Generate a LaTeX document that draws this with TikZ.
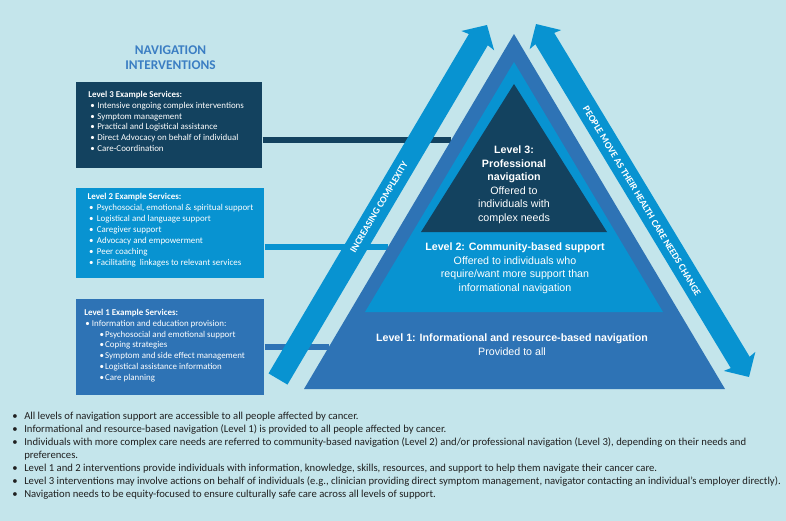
\documentclass[tikz,border=0pt]{standalone}
\usepackage{fontspec}
\setmainfont{Carlito}
\newfontfamily\arialf{Liberation Sans}
\usetikzlibrary{arrows.meta}
\definecolor{bgc}{HTML}{C4E5EB}
\definecolor{navy}{HTML}{13425F}
\definecolor{brite}{HTML}{0893D1}
\definecolor{midb}{HTML}{2E73B5}
\definecolor{titlec}{HTML}{3B7EC3}
\definecolor{txt}{HTML}{202020}
\newcommand\bx[1]{\makebox[#1][l]{\textbullet}}
\begin{document}
\begin{tikzpicture}[x=0.75pt,y=-0.75pt,
  boxstyle/.style={anchor=north west, inner sep=0, draw=none},
  btxt/.style={anchor=base west, align=left, inner sep=0, text=white,
    font=\fontsize{6.7pt}{8.1pt}\selectfont},
  tritxt/.style={anchor=base, align=center, inner sep=0, text=white,
    font=\arialf\fontsize{8pt}{10.1pt}\selectfont},
  arrtxt/.style={inner sep=0, text=white, font=\bfseries\fontsize{7.3pt}{8pt}\selectfont},
  arrowline/.style={brite, line width=16.5pt},
  conn/.style={line width=4.5pt}]
\fill[bgc] (0,0) rectangle (786,521);
\useasboundingbox (0,0) rectangle (786,521);

% title (anchor = baseline of last line)
\node[anchor=base, align=center, inner sep=0, text=titlec,
  font=\bfseries\fontsize{10pt}{10.5pt}\selectfont] (title) at (170.5,69) {NAVIGATION\\INTERVENTIONS};

% boxes
\node[boxstyle, fill=navy, minimum width=139.5pt, minimum height=64.5pt] (b3) at (76,82) {};
\node[boxstyle, fill=brite, minimum width=141pt, minimum height=67.5pt] (b2) at (76,188) {};
\node[boxstyle, fill=midb, minimum width=141pt, minimum height=72pt] (b1) at (76,299) {};

\node[btxt] (t3) at (88,151.5) {\textbf{Level 3 Example Services:}\\
\hspace*{1.5pt}\bx{5.25pt}Intensive ongoing complex interventions\\
\hspace*{1.5pt}\bx{5.25pt}Symptom management\\
\hspace*{1.5pt}\bx{5.25pt}Practical and Logistical assistance\\
\hspace*{1.5pt}\bx{5.25pt}Direct Advocacy on behalf of individual\\
\hspace*{1.5pt}\bx{5.25pt}Care-Coordination};

\node[btxt, font=\fontsize{6.7pt}{8.25pt}\selectfont] (t2) at (87.3,265.8) {\textbf{Level 2 Example Services:}\\
\hspace*{1.2pt}\bx{5.8pt}Psychosocial, emotional \& spiritual support\\
\hspace*{1.2pt}\bx{5.8pt}Logistical and language support\\
\hspace*{1.2pt}\bx{5.8pt}Caregiver support\\
\hspace*{1.2pt}\bx{5.8pt}Advocacy and empowerment\\
\hspace*{1.2pt}\bx{5.8pt}Peer coaching\\
\hspace*{1.2pt}\bx{5.8pt}Facilitating\ \ linkages to relevant services};

\node[btxt] (t1) at (84,380.2) {\textbf{Level 1 Example Services:}\\
\hspace*{0.75pt}\bx{5pt}Information and education provision:\\
\hspace*{11.5pt}\bx{4.2pt}Psychosocial and emotional support\\
\hspace*{11.5pt}\bx{4.2pt}Coping strategies\\
\hspace*{11.5pt}\bx{4.2pt}Symptom and side effect management\\
\hspace*{11.5pt}\bx{4.2pt}Logistical assistance information\\
\hspace*{11.5pt}\bx{4.2pt}Care planning};

% triangle corner coordinates
\coordinate (A1) at (514,34);  \coordinate (L1) at (304,389); \coordinate (R1) at (725,389);
\coordinate (A2) at (514,62);  \coordinate (L2) at (365,312); \coordinate (R2) at (663,312);
\coordinate (A3) at (514,84);  \coordinate (L3) at (421,232); \coordinate (R3) at (607,232);

% connector end points on the outer triangle edge
\coordinate (c3) at (451,140);
\coordinate (c2) at (388,247);
\coordinate (c1) at (329,347);
\draw[conn, navy] (c3 -| b3.east) -- (c3);
\draw[conn, brite] (c2 -| b2.east) -- (c2);
\draw[conn, midb] (c1 -| b1.east) -- (c1);

% pyramid
\fill[midb] (A1) -- (L1) -- (R1) -- cycle;
\fill[brite] (A2) -- (L2) -- (R2) -- cycle;
\fill[navy] (A3) -- (L3) -- (R3) -- cycle;

\node[tritxt] (p3) at (514,221.3) {\textbf{Level 3:}\\ \textbf{Professional}\\ \textbf{navigation}\\ Offered to\\ individuals with\\ complex needs};
\node[tritxt] (p2) at (515,291.2) {\textbf{Level 2: Community-based support}\\ Offered to individuals who\\ require/want more support than\\ informational navigation};
\node[tritxt] (p1) at (512,355) {\textbf{Level 1: Informational and resource-based navigation}\\ Provided to all};

% arrows
\coordinate (LT) at (487,25); \coordinate (LB) at (278,379);
\coordinate (RT) at (536,24); \coordinate (RB) at (749,377);
\draw[arrowline, -{Stealth[length=13.5pt,width=28pt,inset=2pt]}] (LB) -- (LT);
\draw[arrowline, {Stealth[length=13.5pt,width=27pt,inset=2pt]}-{Stealth[length=13.5pt,width=27pt,inset=2pt]}] (RB) -- (RT);
\node[arrtxt, rotate=59.4] (inc) at (379,207) {INCREASING COMPLEXITY};
\node[arrtxt, rotate=-58.9] (ppl) at (642,201) {PEOPLE MOVE AS THEIR HEALTH CARE NEEDS CHANGE};

% notes (anchor = baseline of last line)
\node[anchor=base west, align=left, inner sep=0, text=txt,
  font=\fontsize{8pt}{9.8pt}\selectfont] (notes) at (12,497.9) {%
\bx{9pt}All levels of navigation support are accessible to all people affected by cancer.\\
\bx{9pt}Informational and resource-based navigation (Level 1) is provided to all people affected by cancer.\\
\bx{9pt}Individuals with more complex care needs are referred to community-based navigation (Level 2) and/or professional navigation (Level 3), depending on their needs and\\
\hspace*{9pt}preferences.\\
\bx{9pt}Level 1 and 2 interventions provide individuals with information, knowledge, skills, resources, and support to help them navigate their cancer care.\\
\bx{9pt}Level 3 interventions may involve actions on behalf of individuals (e.g., clinician providing direct symptom management, navigator contacting an individual’s employer directly).\\
\bx{9pt}Navigation needs to be equity-focused to ensure culturally safe care across all levels of support.};
\end{tikzpicture}
\end{document}
